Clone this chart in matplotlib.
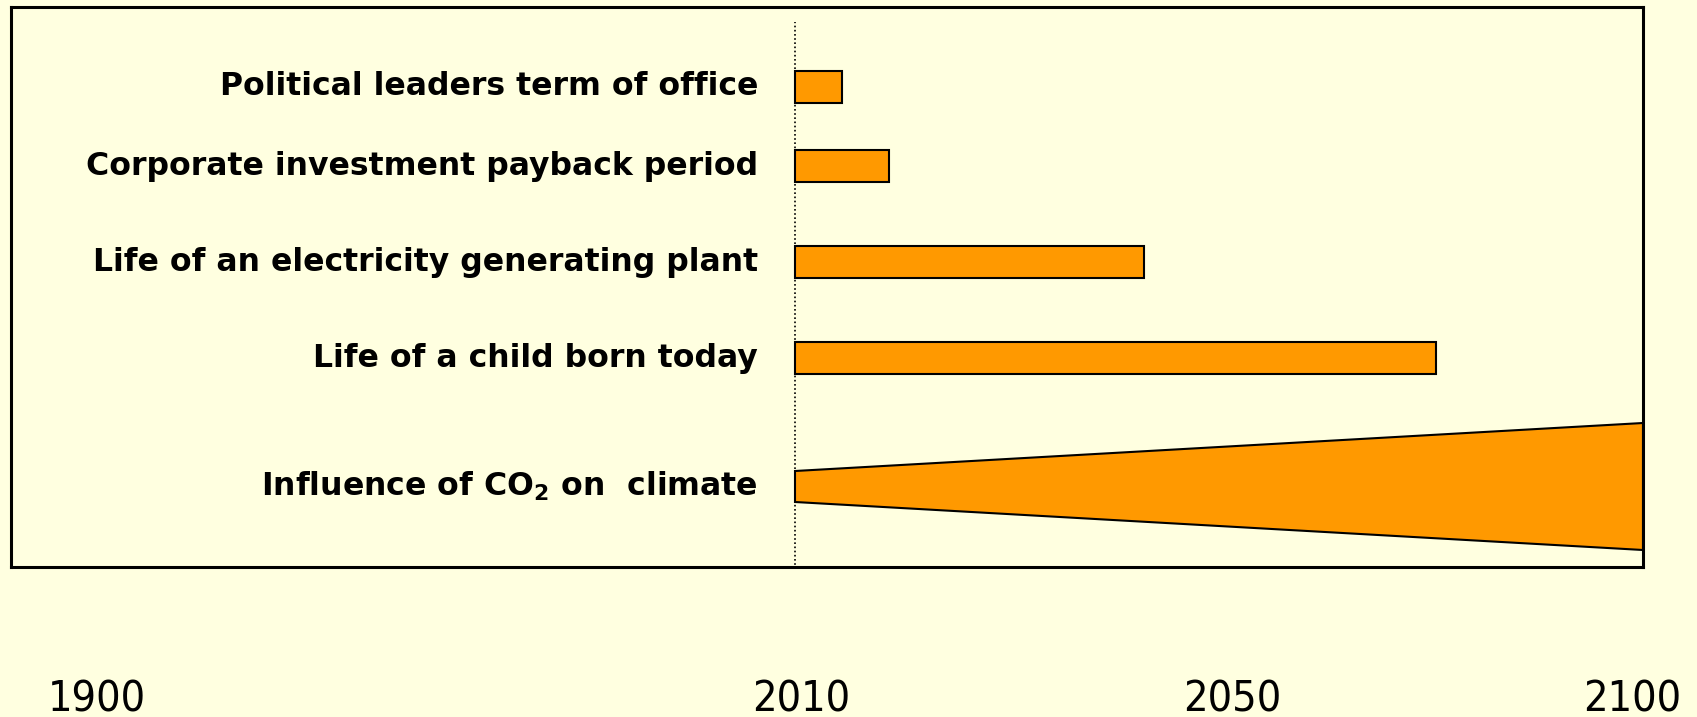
import numpy as np
import matplotlib.pyplot as plt
from matplotlib.patches import Polygon

# timescales, in years from today (2010)
labels = ['Political leaders term of office',
          'Corporate investment payback period',
          'Life of an electricity generating plant',
          'Life of a child born today']
durations = [5, 10, 37, 68]
start_year = 2010
co2_label = r'Influence of CO$_\mathbf{2}$ on  climate'
co2_end = 2100
year_labels = ['1900', '2010', '2050', '2100']

bg = '#ffffe0'
orange = '#ff9900'

fig = plt.figure(figsize=(16.97, 7.17), dpi=100, facecolor=bg)
ax = fig.add_axes([11/1697, 1 - 567/717, 1632/1697, 560/717])
ax.set_facecolor(bg)

px_per_year = 848 / 90.0
ax.set_xlim(start_year - 784 / px_per_year, co2_end)
ax.set_ylim(560, 0)

# row layout (vertical centres) and bar thickness
rows = [79.5, 159, 255, 351]
co2_row = 479.5
bar_h = 32

ax.axvline(start_year, ymin=-0.004, ymax=1 - 15/560, color='black',
           linestyle=(0, (1, 1.5)), linewidth=1.2, clip_on=False, zorder=1)

ax.barh(rows, durations, left=start_year, height=bar_h, color=orange,
        edgecolor='black', linewidth=1.5, zorder=2)

wedge = Polygon([(start_year, co2_row - 15.5), (co2_end, co2_row - 63.5),
                 (co2_end, co2_row + 63.5), (start_year, co2_row + 15.5)],
                closed=True, facecolor=orange, edgecolor='black',
                linewidth=1.5, zorder=2)
ax.add_patch(wedge)

text_x = start_year - 37 / px_per_year
for y, lab in zip(rows + [co2_row], labels + [co2_label]):
    ax.text(text_x, y, lab, ha='right', va='center', fontsize=22.7,
            fontweight='bold', family='DejaVu Sans')

ax.set_xticks([])
ax.set_yticks([])
for s in ax.spines.values():
    s.set_linewidth(2.2)
    s.set_color('black')

# year captions along the bottom
year_x = [97, 801, 1232, 1632]
for xp, yl in zip(year_x, year_labels):
    fig.text(xp / 1697, 1 - 699 / 717, yl, ha='center', va='center',
             fontsize=31, family='DejaVu Sans', fontstretch='condensed')

fig.savefig('out.png', dpi=100, facecolor=bg)
